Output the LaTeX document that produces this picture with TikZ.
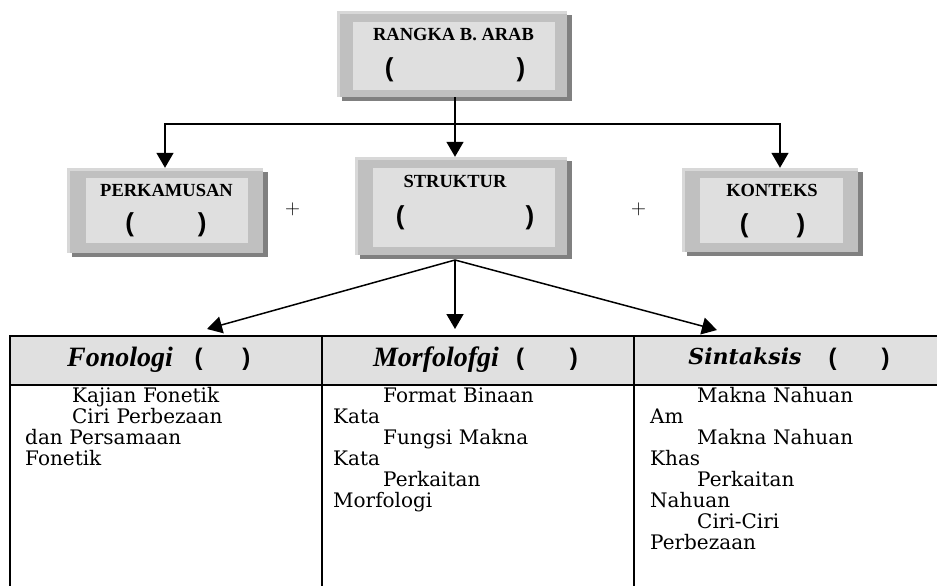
\documentclass[tikz,border=0pt]{standalone}
\usepackage{fontspec}
\setmainfont{DejaVu Serif}
\newfontfamily\timesfont{Liberation Serif}
\newfontfamily\arialfont{Liberation Sans}
\usetikzlibrary{arrows.meta,shadows}
\definecolor{boxgray}{HTML}{C0C0C0}
\definecolor{edgegray}{HTML}{D8D8D8}
\definecolor{innergray}{HTML}{DFDFDF}
\definecolor{shadowgray}{HTML}{808080}
\definecolor{headgray}{HTML}{E0E0E0}

\begin{document}
\begin{tikzpicture}[x=1pt,y=-1pt,
    outerbox/.style={rectangle,fill=boxgray,inner sep=0pt,
      path picture={
        \fill[edgegray] (path picture bounding box.north west) rectangle
          ([yshift=-3pt]path picture bounding box.north east);
        \fill[edgegray] (path picture bounding box.north west) rectangle
          ([xshift=3pt]path picture bounding box.south west);},
      drop shadow={shadow xshift=5pt,shadow yshift=-4pt,fill=shadowgray,opacity=1}},
    innerbox/.style={rectangle,fill=innergray,inner sep=0pt},
    boxtitle/.style={anchor=base,inner sep=0pt,
      font=\timesfont\bfseries\fontsize{18.5}{22}\selectfont},
    bracket/.style={anchor=base,inner sep=0pt,
      font=\arialfont\bfseries\fontsize{26}{30}\selectfont},
    headbracket/.style={anchor=base,inner sep=0pt,
      font=\arialfont\bfseries\fontsize{24}{28}\selectfont},
    headtimes/.style={anchor=base,inner sep=0pt,
      font=\timesfont\bfseries\itshape\fontsize{28}{32}\selectfont},
    headbook/.style={anchor=base,inner sep=0pt,
      font=\bfseries\itshape\fontsize{22}{26}\selectfont},
    bodytext/.style={anchor=base west,inner sep=0pt,text width=290pt,align=left,
      font=\fontsize{20}{21}\selectfont},
    plussign/.style={inner sep=0pt,font=\fontsize{20}{22}\selectfont},
    link/.style={line width=1.5pt},
    arrow/.style={link,-{Triangle[length=15pt,width=17pt]}},
    tableline/.style={line width=2pt}]
  \useasboundingbox (0,0) rectangle (937,586);
  \clip (0,0) rectangle (937,586);

  % top box
  \node[outerbox,minimum width=230pt,minimum height=86pt] (rangkabox) at (452,54) {};
  \node[innerbox,minimum width=202pt,minimum height=68pt] (rangkainner) at (454,56) {};
  \node[boxtitle] (rangka) at (453.5,41) {RANGKA B. ARAB};
  \node[bracket] (rangkapar) at (455,77) {(\hspace{123pt})};

  % second row boxes
  \node[outerbox,minimum width=196pt,minimum height=85pt] (perkamusanbox) at (165,210.5) {};
  \node[innerbox,minimum width=162pt,minimum height=65pt] (perkamusaninner) at (167,210.5) {};
  \node[boxtitle] (perkamusan) at (166.5,196) {PERKAMUSAN};
  \node[bracket] (perkamusanpar) at (166,231.5) {(\hspace{64pt})};

  \node[outerbox,minimum width=212pt,minimum height=98pt] (strukturbox) at (461,206) {};
  \node[innerbox,minimum width=182pt,minimum height=79pt] (strukturinner) at (464,207.5) {};
  \node[boxtitle] (struktur) at (455,187) {STRUKTUR};
  \node[bracket] (strukturpar) at (465,224) {(\hspace{121pt})};

  \node[outerbox,minimum width=176pt,minimum height=84pt] (kontekbox) at (770,210) {};
  \node[innerbox,minimum width=143pt,minimum height=65pt] (kontekinner) at (771.5,210.5) {};
  \node[boxtitle] (konteks) at (772,196) {KONTEKS};
  \node[bracket] (konteksparen) at (772.5,232) {(\hspace{48pt})};

  \node[plussign] (plusleft) at (292.5,209.5) {$+$};
  \node[plussign] (plusright) at (638.5,209.5) {$+$};

  % connectors from the top box
  \coordinate (split) at (455,124);
  \draw[link] (rangkabox.south -| split) -- (split);
  \draw[arrow] (split) -| (perkamusanbox.north);
  \draw[arrow] (split) -| ([xshift=10pt]kontekbox.north);
  \draw[arrow] (split) -- (split |- strukturbox.north);

  % fan out to the table
  \coordinate (fan) at (455,260);
  \coordinate (fonologitip) at (207,329);
  \coordinate (morfologitip) at (455,329);
  \coordinate (sintaksistip) at (717,330);
  \draw[arrow] (fan) -- (fonologitip);
  \draw[arrow] (fan) -- (morfologitip);
  \draw[arrow] (fan) -- (sintaksistip);

  % table
  \fill[headgray] (10,336) rectangle (950,385);
  \draw[tableline] (950,336) -- (10,336) -- (10,600);
  \draw[tableline] (10,385) -- (950,385);
  \draw[tableline] (322,336) -- (322,600);
  \draw[tableline] (634,336) -- (634,600);

  % table headings
  \node[headtimes] (fonologi) at (120,366) {Fonologi};
  \node[headbracket] (fonologipar) at (222.5,365) {(\hspace{40pt})};
  \node[headtimes] (morfologi) at (436,366) {Morfolofgi};
  \node[headbracket] (morfologipar) at (547,365) {(\hspace{46pt})};
  \node[headbook] (sintaksis) at (745,364) {Sintaksis};
  \node[headbracket] (sintaksispar) at (859,365) {(\hspace{45pt})};

  % table contents
  \node[bodytext] (fonologilist) at (25,402)
    {\hspace*{47pt}Kajian Fonetik\\\hspace*{47pt}Ciri Perbezaan\\dan Persamaan\\Fonetik};
  \node[bodytext] (morfologilist) at (333,402)
    {\hspace*{50pt}Format Binaan\\Kata\\\hspace*{50pt}Fungsi Makna\\Kata\\\hspace*{50pt}Perkaitan\\Morfologi};
  \node[bodytext] (sintaksislist) at (650,402)
    {\hspace*{47pt}Makna Nahuan\\Am\\\hspace*{47pt}Makna Nahuan\\Khas\\\hspace*{47pt}Perkaitan\\Nahuan\\\hspace*{47pt}Ciri-Ciri\\Perbezaan};
\end{tikzpicture}
\end{document}
